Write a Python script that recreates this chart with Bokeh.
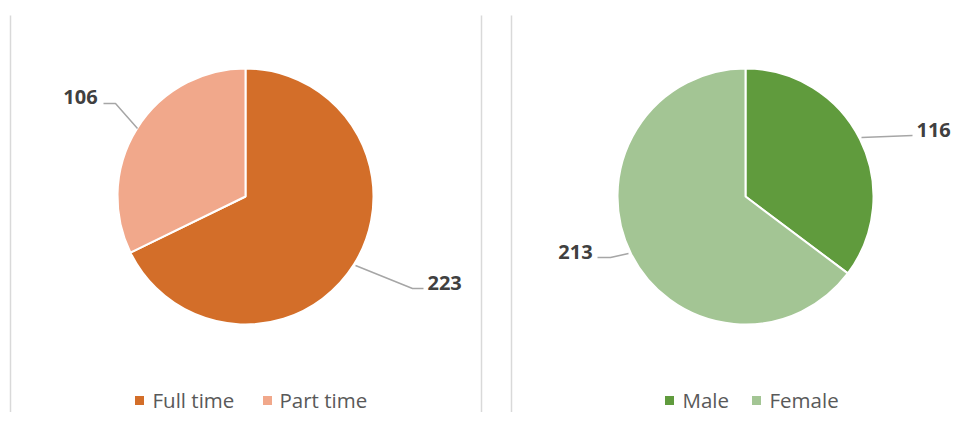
import math
from bokeh.plotting import figure
from bokeh.models import Range1d, ColumnDataSource
from bokeh.core.properties import value
from bokeh.embed import file_html
from bokeh.resources import INLINE

# ---- data ----
status_categories = ["Full time", "Part time"]
status_values = [223, 106]
status_colors = ["#D36E29", "#F1A88B"]

gender_categories = ["Male", "Female"]
gender_values = [116, 213]
gender_colors = ["#609B3D", "#A3C594"]

W, H = 954, 412


def Y(py):
    # picture pixel y -> data y
    return H - py


p = figure(width=W, height=H, output_backend="svg", toolbar_location=None,
           x_range=Range1d(0, W), y_range=Range1d(0, H),
           min_border=0, outline_line_color=None, background_fill_color="white")
p.axis.visible = False
p.xgrid.visible = False
p.ygrid.visible = False

# panel separators
for px in [10, 481, 511]:
    p.segment(x0=px, y0=Y(15), x1=px, y1=Y(430), line_color="#D9D9D9", line_width=1.5)


def pie(cx, cy, r, vals, colors):
    total = sum(vals)
    cum = 0
    starts, ends = [], []
    for v in vals:
        starts.append(math.pi / 2 - 2 * math.pi * cum / total)
        cum += v
        ends.append(math.pi / 2 - 2 * math.pi * cum / total)
    src = ColumnDataSource(dict(start=starts, end=ends, color=colors))
    p.wedge(x=cx, y=Y(cy), radius=r, start_angle="start", end_angle="end",
            direction="clock", fill_color="color", line_color="white",
            line_width=2, source=src)


pie(245, 196, 128, status_values, status_colors)
pie(745, 196, 128, gender_values, gender_colors)

LEADER = "#A6A6A6"
LBL = "#404040"
LEG = "#595959"
FONT = value("Open Sans")

# leader lines (picture coordinates)
leaders = [
    [(103, 103), (115, 103), (137, 128)],
    [(355, 265), (412, 288), (423, 288)],
    [(861, 137), (912, 135)],
    [(597, 257), (610, 257), (628, 253)],
]
for pts in leaders:
    p.line([a for a, b in pts], [Y(b) for a, b in pts], line_color=LEADER, line_width=1.5)

# data labels
label_pos = {
    ("status", 1): (80, 96, "center"),
    ("status", 0): (427, 282, "left"),
    ("gender", 0): (916, 129, "left"),
    ("gender", 1): (575, 251, "center"),
}
for key, vals in [("status", status_values), ("gender", gender_values)]:
    for i, v in enumerate(vals):
        x, y, al = label_pos[(key, i)]
        p.text(x=[x], y=[Y(y)], text=[str(v)], text_font=FONT, text_font_size="20px",
               text_font_style="bold", text_color=LBL, text_align=al,
               text_baseline="middle")

# legends
legend_items = [
    (status_categories[0], status_colors[0], 139, 152),
    (status_categories[1], status_colors[1], 267, 279),
    (gender_categories[0], gender_colors[0], 669, 682),
    (gender_categories[1], gender_colors[1], 756, 769),
]
for name, col, sx, tx in legend_items:
    p.rect(x=sx, y=Y(400), width=9, height=9, fill_color=col, line_color=None)
    p.text(x=[tx], y=[Y(399)], text=[name], text_font=FONT, text_font_size="20.5px",
           text_color=LEG, text_align="left", text_baseline="middle")

open("out.html", "w").write(file_html(p, INLINE))
